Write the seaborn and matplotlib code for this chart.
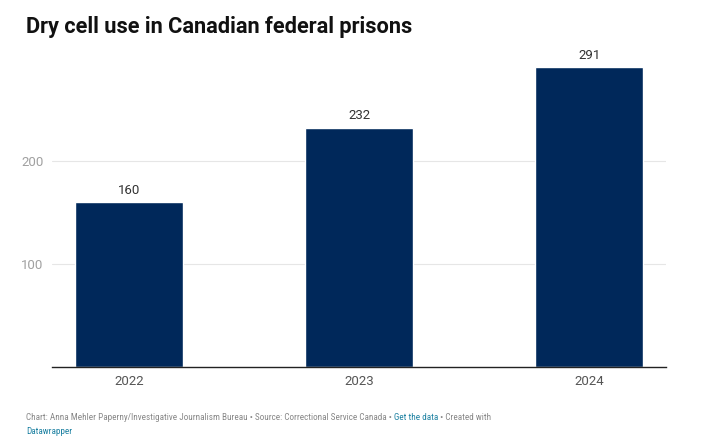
import seaborn as sns
import matplotlib.pyplot as plt
from matplotlib import font_manager
import pandas as pd

years = ["2022", "2023", "2024"]
dry_cells = [160, 232, 291]
y_ticks = [100, 200]

title = "Dry cell use in Canadian federal prisons"
footer_parts = [
    ("Chart: Anna Mehler Paperny/Investigative Journalism Bureau \u2022 Source: Correctional Service Canada \u2022 ", "#888888"),
    ("Get the data", "#1d81a2"),
    (" \u2022 Created with", "#888888"),
]
footer_line2 = ("Datawrapper", "#1d81a2")

sns.set_theme(style="white")
plt.rcParams['font.family'] = ['Roboto', 'DejaVu Sans']

# the footer uses a condensed face if one is installed
footer_font = 'Roboto'
for name in ['Roboto Condensed', 'Liberation Sans Narrow', 'Open Sans Condensed']:
    try:
        font_manager.findfont(name, fallback_to_default=False)
        footer_font = name
        break
    except Exception:
        pass

df = pd.DataFrame({"year": years, "count": dry_cells})

fig = plt.figure(figsize=(7.01, 4.45), dpi=100)
ax = fig.add_axes([0.0742, 0.1753, 0.8758, 0.6944])
sns.barplot(data=df, x="year", y="count", color="#00285a", width=0.47,
            saturation=1, ax=ax)

ax.set_xlim(-0.335, 2.333)
ax.set_ylim(0, 300)
ax.set_yticks(y_ticks)
ax.yaxis.grid(True, color="#e6e6e6", linewidth=0.8)
ax.set_axisbelow(True)
for s in ["top", "right", "left"]:
    ax.spines[s].set_visible(False)
ax.spines["bottom"].set_color("#222222")
ax.spines["bottom"].set_linewidth(1)
ax.tick_params(axis="y", length=0, pad=6, labelsize=9.5, labelcolor="#a0a0a0")
ax.tick_params(axis="x", length=0, pad=6, labelsize=9.5, labelcolor="#555555")
for lbl in ax.get_yticklabels():
    lbl.set_horizontalalignment("right")
ax.set_xlabel("")
ax.set_ylabel("")

for c in ax.containers:
    ax.bar_label(c, labels=[str(v) for v in dry_cells], padding=4,
                 fontsize=9.5, color="#333333")

fig.text(26 / 701, 1 - 27 / 445, title, fontsize=15.7, fontweight="bold",
         color="#111111", va="center", ha="left")

# footer with mixed colours, sized so the first line ends near x=486
fig.canvas.draw()
renderer = fig.canvas.get_renderer()
full = "".join(p[0] for p in footer_parts)
probe = fig.text(0, 0, full, fontsize=8, family=footer_font)
w = probe.get_window_extent(renderer).width
probe.remove()
fsize = min(8, 8 * 460 / w)

x = 26
y1 = 1 - 418 / 445
for txt, col in footer_parts:
    t = fig.text(x / 701, y1, txt, fontsize=fsize, color=col, va="center",
                 ha="left", family=footer_font)
    x += t.get_window_extent(renderer).width
fig.text(26 / 701, 1 - 431 / 445, footer_line2[0], fontsize=fsize,
         color=footer_line2[1], va="center", ha="left", family=footer_font)

fig.savefig("out.png", dpi=100)
